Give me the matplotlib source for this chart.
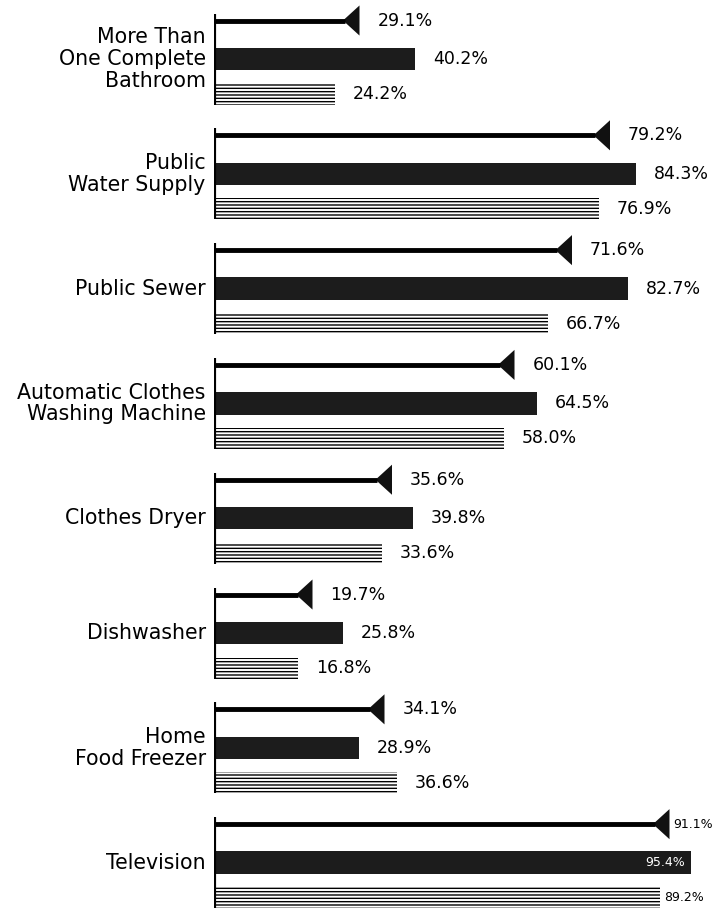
import numpy as np
import matplotlib.pyplot as plt

categories = ["More Than\nOne Complete\nBathroom", "Public\nWater Supply", "Public Sewer",
              "Automatic Clothes\nWashing Machine", "Clothes Dryer", "Dishwasher",
              "Home\nFood Freezer", "Television"]
top_vals = [29.1, 79.2, 71.6, 60.1, 35.6, 19.7, 34.1, 91.1]
mid_vals = [40.2, 84.3, 82.7, 64.5, 39.8, 25.8, 28.9, 95.4]
bot_vals = [24.2, 76.9, 66.7, 58.0, 33.6, 16.8, 36.6, 89.2]

plt.rcParams['font.family'] = ['DejaVu Sans']
plt.rcParams['hatch.linewidth'] = 1.0

fig = plt.figure(figsize=(7.18, 9.19), dpi=100)
ax = fig.add_axes([214 / 718, 0, 1 - 214 / 718, 1])
ax.set_xlim(0, 100.8)
ax.set_ylim(24.57, -1.686)
ax.axis('off')

step = 3.28
centers = np.arange(len(categories)) * step
y_top = centers - 1.1
y_bot = centers + 1.0

# group spines
ax.vlines(np.zeros(len(centers)), centers - 1.3, centers + 1.3, color='black', lw=3)

# pennant rows
tri_w, tri_h = 3.3, 0.86
for v, y in zip(top_vals, y_top):
    ax.hlines(y, 0, v - tri_w + 0.3, color='black', lw=3.5)
    ax.fill([v - tri_w, v, v], [y, y - tri_h / 2, y + tri_h / 2], color='#111111', lw=0)

# solid rows
ax.barh(centers, mid_vals, height=0.64, color='#1c1c1c', lw=0)

# hatched rows
ax.barh(y_bot, bot_vals, height=0.6, facecolor='white', edgecolor='black',
        hatch='-----', lw=0)

def pct(v):
    return f"{v:.1f}%"

last = len(categories) - 1
rows = [(top_vals, y_top), (mid_vals, centers), (bot_vals, y_bot)]
for r, (vals, ys) in enumerate(rows):
    for i, (v, y) in enumerate(zip(vals, ys)):
        if i < last:
            ax.annotate(pct(v), (v, y), xytext=(13, 0), textcoords='offset points',
                        va='center', ha='left', fontsize=12.5)
        elif r == 1:
            # no room at the right edge: keep the label inside the bar end
            ax.annotate(pct(v), (v, y), xytext=(-4, 0), textcoords='offset points',
                        va='center', ha='right', fontsize=9, color='white')
        else:
            ax.annotate(pct(v), (v, y), xytext=(3, 0), textcoords='offset points',
                        va='center', ha='left', fontsize=9)

for name, y in zip(categories, centers):
    ax.annotate(name, (0, y), xytext=(-6, 0), textcoords='offset points',
                va='center', ha='right', fontsize=14.8, linespacing=1.1,
                annotation_clip=False)

fig.savefig("out.png", dpi=100)
